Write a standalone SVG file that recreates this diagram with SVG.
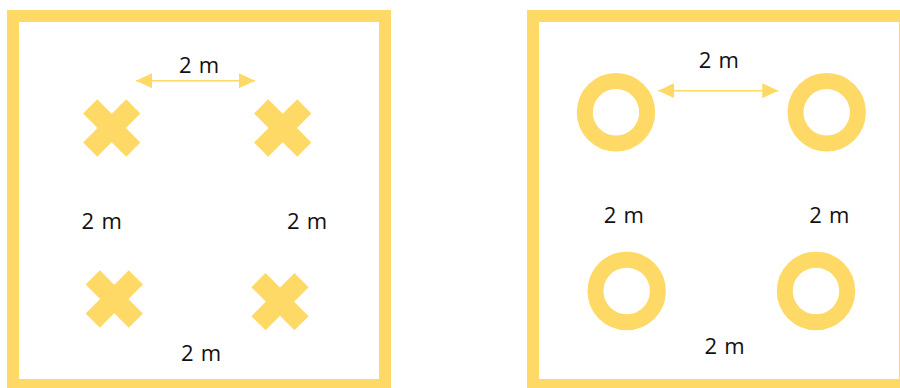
<svg xmlns="http://www.w3.org/2000/svg" width="900" height="388" viewBox="0 0 900 388">
<defs>
<style>
.frame{fill:none;stroke:#FFD966;stroke-width:12}
.ring{fill:none;stroke:#FFD966;stroke-width:16}
.arm{fill:#FFD966}
.dim{stroke:#FFD966;stroke-width:1.6;fill:none}
.lbl{font-family:"Open Sans","Liberation Sans",sans-serif;font-weight:400;font-size:22px;word-spacing:1.5px;fill:#111;text-anchor:middle}
</style>
<marker id="ah" viewBox="0 0 16 15" refX="16" refY="7.5" markerWidth="16" markerHeight="15" markerUnits="userSpaceOnUse" orient="auto-start-reverse">
<path d="M0,0 L16,7.5 L0,15 Z" fill="#FFD966"/>
</marker>
<g id="cross">
<rect x="-30.5" y="-10" width="61" height="20" transform="rotate(45)"/>
<rect x="-30.5" y="-10" width="61" height="20" transform="rotate(-45)"/>
</g>
</defs>
<rect width="900" height="388" fill="#fff"/>
<g id="panel-left">
<rect id="frame-left" class="frame" x="13" y="16" width="372" height="369"/>
<g id="cross-tl" class="arm"><use href="#cross" x="111.7" y="128"/></g>
<g id="cross-tr" class="arm"><use href="#cross" x="282.7" y="128"/></g>
<g id="cross-bl" class="arm"><use href="#cross" x="114.3" y="299"/></g>
<g id="cross-br" class="arm"><use href="#cross" x="280" y="301.7"/></g>
<text class="lbl" x="199" y="73.3">2 m</text>
<text class="lbl" x="101.7" y="229.3">2 m</text>
<text class="lbl" x="307" y="229.3">2 m</text>
<text class="lbl" x="201" y="360.7">2 m</text>
</g>
<g id="panel-right">
<rect id="frame-right" class="frame" x="533" y="16" width="372" height="369"/>
<g id="ring-tl"><circle class="ring" cx="616" cy="112.3" r="31.2"/></g>
<g id="ring-tr"><circle class="ring" cx="826.7" cy="112.3" r="31.2"/></g>
<g id="ring-bl"><circle class="ring" cx="626.7" cy="291" r="31.2"/></g>
<g id="ring-br"><circle class="ring" cx="816" cy="291" r="31.2"/></g>
<text class="lbl" x="718.8" y="67.7">2 m</text>
<text class="lbl" x="623.8" y="223.3">2 m</text>
<text class="lbl" x="829.3" y="223.3">2 m</text>
<text class="lbl" x="724.5" y="354">2 m</text>
</g>
<g id="connectors">
<line class="dim" x1="136" y1="80.7" x2="255" y2="80.7" marker-start="url(#ah)" marker-end="url(#ah)"/>
<line class="dim" x1="658.3" y1="90.7" x2="778.3" y2="90.7" marker-start="url(#ah)" marker-end="url(#ah)"/>
</g>
</svg>
